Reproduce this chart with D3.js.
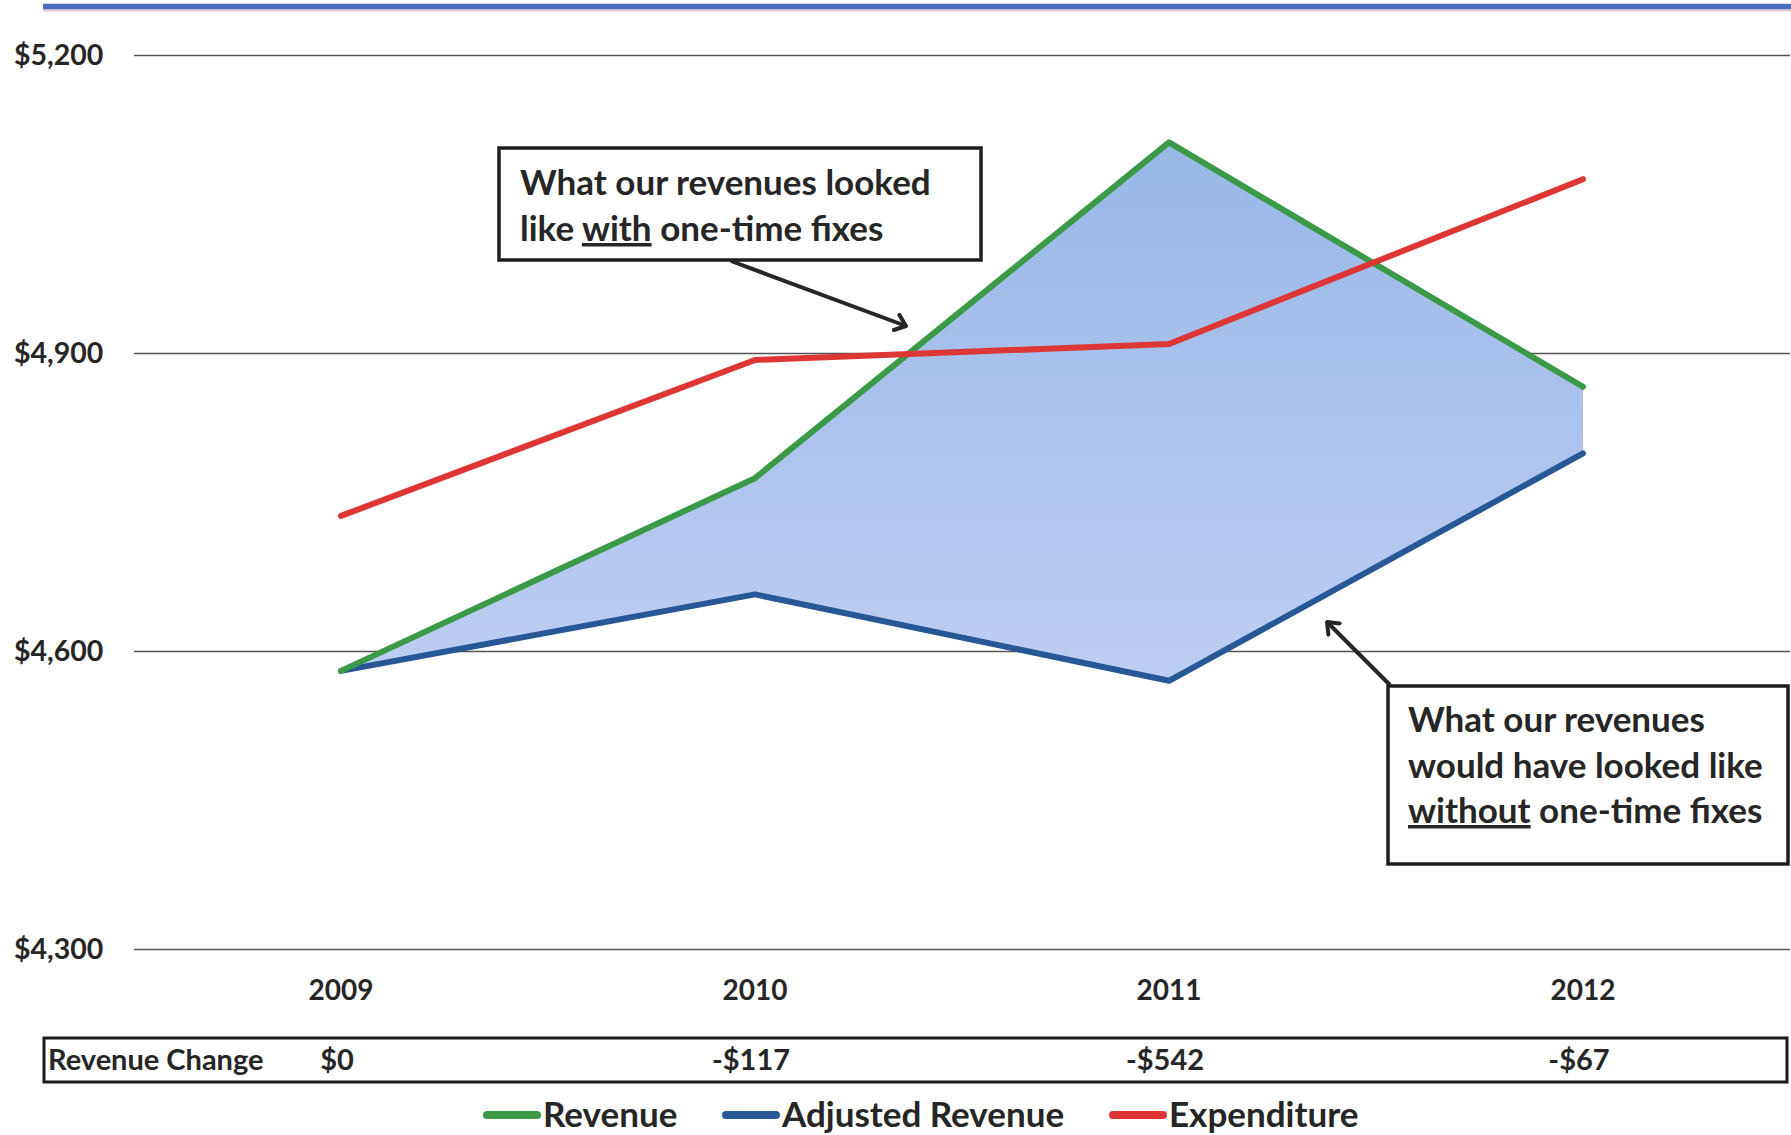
<!DOCTYPE html>
<html>
<head>
<meta charset="utf-8">
<script src="https://cdn.jsdelivr.net/npm/d3@7/dist/d3.min.js"></script>
<style>
  html, body { margin: 0; padding: 0; background: #fff; }
  svg { display: block; }
  text { font-family: Lato, "Open Sans", sans-serif; font-weight: 700; fill: #262626; }
</style>
</head>
<body>
<svg id="chart" width="1791" height="1135"></svg>
<script>
// Revenue vs. adjusted revenue vs. expenditure, in millions of dollars
const years = ["2009", "2010", "2011", "2012"];
const revenue = [4580, 4774, 5112, 4866];
const adjustedRevenue = [4580, 4657, 4570, 4799];
const expenditure = [4736, 4893, 4909, 5075];
const revenueChange = [0, -117, -542, -67];
const yTicks = [4300, 4600, 4900, 5200];
const seriesNames = ["Revenue", "Adjusted Revenue", "Expenditure"];

const W = 1791, H = 1135;
const plotLeft = 134, plotRight = 1790;
const svg = d3.select("#chart");

const x = d3.scalePoint().domain(years).range([plotLeft, plotRight]).padding(0.5);
const y = d3.scaleLinear().domain([4300, 5200]).range([949, 55]);

const colors = { "Revenue": "#3a9a47", "Adjusted Revenue": "#285796", "Expenditure": "#de3535" };

// fill gradient for the band between revenue and adjusted revenue
const defs = svg.append("defs");
const grad = defs.append("linearGradient").attr("id", "bandFill")
  .attr("x1", 0).attr("y1", 0).attr("x2", 0).attr("y2", 1);
grad.append("stop").attr("offset", "0%").attr("stop-color", "#97b8e6");
grad.append("stop").attr("offset", "100%").attr("stop-color", "#bdcef3");

defs.append("marker").attr("id", "arrowHead")
  .attr("viewBox", "-12 -10 14 20").attr("refX", 0).attr("refY", 0)
  .attr("markerWidth", 14).attr("markerHeight", 20)
  .attr("markerUnits", "userSpaceOnUse").attr("orient", "auto")
  .append("path").attr("d", "M-10,-8 L0,0 L-10,8")
  .attr("fill", "none").attr("stroke", "#262626").attr("stroke-width", 4)
  .attr("stroke-linecap", "round").attr("stroke-linejoin", "round");

// top rule
svg.append("line").attr("x1", 43).attr("x2", W).attr("y1", 10).attr("y2", 10)
  .attr("stroke", "#e6c7d8").attr("stroke-width", 3);
svg.append("line").attr("x1", 43).attr("x2", W).attr("y1", 6.5).attr("y2", 6.5)
  .attr("stroke", "#4a6fbf").attr("stroke-width", 5.5);

// gridlines
const gridAxis = d3.axisLeft(y).tickValues(yTicks)
  .tickSize(-(plotRight - plotLeft)).tickFormat("");
const grid = svg.append("g").attr("transform", `translate(${plotLeft},0)`).call(gridAxis);
grid.select(".domain").remove();
grid.selectAll(".tick line").attr("stroke", "#555").attr("stroke-width", 1.6);

// y tick labels
svg.append("g").selectAll("text").data(yTicks).join("text")
  .attr("x", 14).attr("y", d => y(d) + 10)
  .attr("font-size", 28.5)
  .text(d => "$" + d3.format(",")(d));

// year labels
svg.append("g").selectAll("text").data(years).join("text")
  .attr("x", d => x(d)).attr("y", 1000)
  .attr("text-anchor", "middle").attr("font-size", 28)
  .text(d => d);

// band between revenue and adjusted revenue
const idx = d3.range(years.length);
svg.append("path").datum(idx)
  .attr("d", d3.area().x(i => x(years[i])).y0(i => y(adjustedRevenue[i])).y1(i => y(revenue[i])))
  .attr("fill", "url(#bandFill)");

// lines
const series = [
  { name: "Adjusted Revenue", values: adjustedRevenue },
  { name: "Revenue", values: revenue },
  { name: "Expenditure", values: expenditure }
];
const lineGen = d3.line().x((v, i) => x(years[i])).y(v => y(v));
svg.append("g").selectAll("path").data(series).join("path")
  .attr("d", d => lineGen(d.values))
  .attr("fill", "none").attr("stroke", d => colors[d.name])
  .attr("stroke-width", 6).attr("stroke-linecap", "round").attr("stroke-linejoin", "round");

// revenue change table
svg.append("rect").attr("x", 44).attr("y", 1038).attr("width", 1743).attr("height", 44)
  .attr("fill", "none").attr("stroke", "#1c1c1c").attr("stroke-width", 3);
svg.append("text").attr("x", 48).attr("y", 1070).attr("font-size", 29).text("Revenue Change");
svg.append("g").selectAll("text").data(revenueChange).join("text")
  .attr("x", (d, i) => x(years[i]) - 4).attr("y", 1070)
  .attr("text-anchor", "middle").attr("font-size", 29)
  .text(d => (d < 0 ? "-$" : "$") + Math.abs(d));

// legend
const legendX = [484, 723, 1110];
const lg = svg.append("g").selectAll("g").data(seriesNames).join("g")
  .attr("transform", (d, i) => `translate(${legendX[i]},1115)`);
lg.append("line").attr("x1", 3).attr("x2", 53).attr("y1", 0).attr("y2", 0)
  .attr("stroke", d => colors[d]).attr("stroke-width", 8).attr("stroke-linecap", "round");
lg.append("text").attr("x", 59).attr("y", 12).attr("font-size", 35).text(d => d);

// callouts
function callout(bx, by, bw, bh, lines, tx, ty, lineGap) {
  svg.append("rect").attr("x", bx).attr("y", by).attr("width", bw).attr("height", bh)
    .attr("fill", "#fff").attr("stroke", "#1e1e1e").attr("stroke-width", 3.5);
  const t = svg.append("text").attr("font-size", 35);
  lines.forEach((parts, li) => {
    parts.forEach((p, pi) => {
      const ts = t.append("tspan").text(p.text);
      if (pi === 0) ts.attr("x", tx).attr("y", ty + li * lineGap);
      if (p.underline) ts.attr("text-decoration", "underline");
    });
  });
}
function arrow(x1, y1, x2, y2) {
  svg.append("line").attr("x1", x1).attr("y1", y1).attr("x2", x2).attr("y2", y2)
    .attr("stroke", "#262626").attr("stroke-width", 4).attr("marker-end", "url(#arrowHead)");
}

arrow(731, 261, 906, 326);
callout(499, 148, 482, 112, [
  [{ text: "What our revenues looked" }],
  [{ text: "like " }, { text: "with", underline: true }, { text: " one-time fixes" }]
], 520, 195, 46);

arrow(1390, 685, 1327, 622);
callout(1388, 686, 400, 178, [
  [{ text: "What our revenues" }],
  [{ text: "would have looked like" }],
  [{ text: "without", underline: true }, { text: " one-time fixes" }]
], 1408, 732, 45.5);
</script>
</body>
</html>
